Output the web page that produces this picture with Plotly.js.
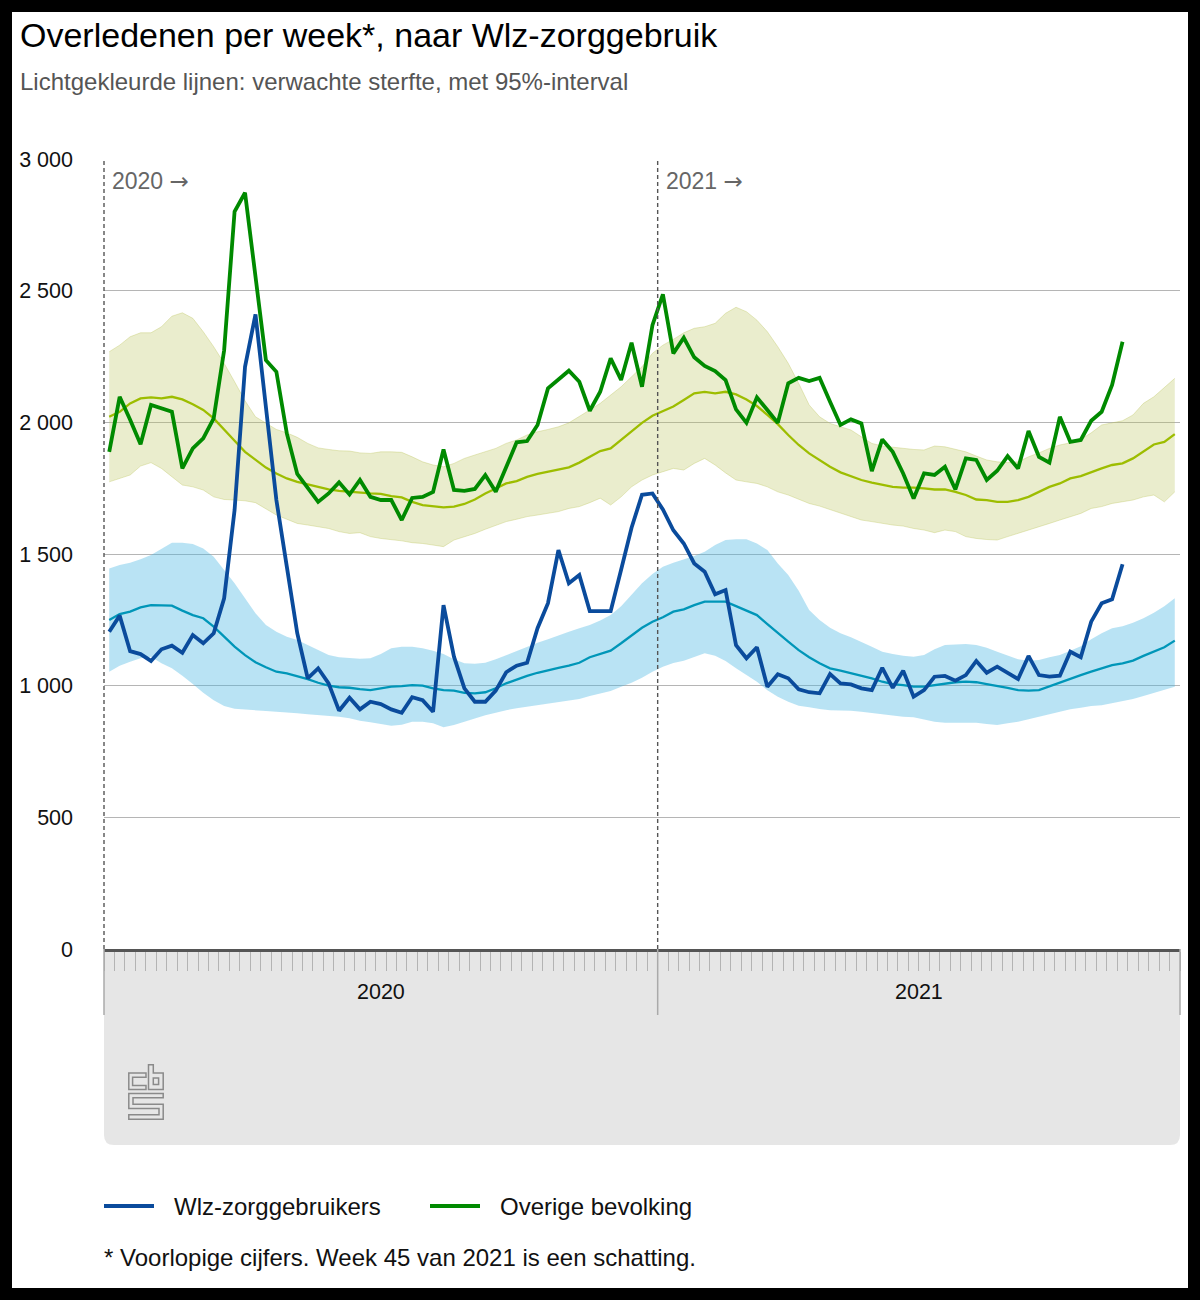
<!DOCTYPE html>
<html><head><meta charset="utf-8">
<script src="https://cdn.plot.ly/plotly-3.0.1.min.js"></script>
<style>
html,body{margin:0;padding:0;background:#000;}
#wrap{position:absolute;left:12px;top:12px;width:1176px;height:1276px;background:#fff;overflow:hidden;}
#chart{width:1176px;height:1276px;}
</style></head>
<body><div id="wrap"><div id="chart"></div></div>
<script>
// ---------------- DATA ----------------
// x = week index: 0 = 2020 week 1 ... 52 = 2020 week 53, 53 = 2021 week 1 ...
const yearLabels = ['2020', '2021'];
const yearCenters = [26, 77.5];          // centre of each year's span on the week axis
const yearStarts = [-0.5, 52.5];         // year boundaries on the week axis
const seriesNames = ['Wlz-zorggebruikers', 'Overige bevolking'];

const yTickVals = [0, 500, 1000, 1500, 2000, 2500, 3000];
const yTickText = ['0', '500', '1 000', '1 500', '2 000', '2 500', '3 000'];

// Observed deaths, Wlz care users (2020 w1 .. 2021 w45)
const wlzObserved = [
  1205,1266,1131,1120,1094,1138,1152,1125,1192,1161,
  1199,1332,1667,2211,2410,2050,1705,1452,1199,1028,
  1066,1009,905,954,910,939,930,910,897,956,
  945,901,1306,1110,990,939,939,981,1051,1076,
  1087,1218,1313,1515,1389,1420,1283,1283,1283,1440,
  1600,1725,1730,1669,1590,1540,1464,1433,1347,1363,
  1154,1104,1146,996,1043,1028,986,975,971,1044,
  1009,1005,990,983,1068,992,1057,958,983,1034,
  1037,1019,1040,1094,1049,1072,1049,1025,1113,1040,
  1034,1038,1129,1108,1243,1313,1328,1461
];
// Observed deaths, rest of population
const overigeObserved = [
  1888,2097,2010,1917,2066,2053,2040,1825,1901,1939,
  2015,2274,2800,2872,2540,2236,2192,1958,1804,1749,
  1698,1730,1772,1726,1781,1717,1705,1705,1629,1713,
  1717,1736,1897,1743,1740,1747,1800,1736,1831,1924,
  1929,1990,2129,2163,2196,2154,2044,2116,2243,2161,
  2302,2135,2369,2486,2262,2321,2247,2214,2195,2160,
  2049,1998,2095,2047,1998,2148,2169,2157,2169,2078,
  1990,2011,1996,1815,1935,1888,1806,1711,1806,1800,
  1831,1745,1863,1857,1781,1816,1872,1825,1967,1869,
  1847,2021,1926,1933,2006,2040,2142,2306
];
// Expected deaths (Wlz) and 95% interval
const wlzExpected = [
  1249,1272,1281,1297,1306,1306,1304,1285,1268,1256,
  1224,1186,1148,1116,1089,1070,1053,1047,1037,1025,
  1011,1000,994,992,987,983,990,996,998,1002,
  1000,990,983,981,973,971,975,990,1009,1024,
  1037,1049,1059,1068,1076,1087,1108,1120,1133,1161,
  1192,1220,1243,1260,1281,1290,1306,1319,1319,1319,
  1302,1285,1268,1234,1199,1167,1135,1108,1085,1066,
  1057,1047,1038,1028,1015,1006,1002,996,996,1002,
  1009,1013,1015,1013,1006,1000,992,983,981,983,
  998,1011,1028,1040,1053,1066,1078,1085,1095,1113,
  1129,1146,1171
];
const wlzUpper = [
  1445,1458,1467,1480,1496,1518,1543,1543,1538,1521,
  1490,1439,1389,1332,1275,1230,1205,1186,1173,1154,
  1135,1116,1108,1104,1102,1104,1120,1142,1148,1148,
  1142,1133,1120,1100,1085,1083,1087,1100,1116,1129,
  1146,1163,1176,1192,1205,1218,1230,1247,1268,1302,
  1344,1389,1424,1452,1467,1480,1492,1509,1534,1553,
  1556,1556,1540,1515,1464,1420,1360,1287,1249,1220,
  1199,1184,1167,1148,1129,1120,1114,1110,1116,1138,
  1154,1157,1158,1154,1144,1129,1114,1100,1095,1097,
  1108,1116,1133,1150,1176,1199,1218,1226,1239,1256,
  1277,1302,1332
];
const wlzLower = [
  1053,1076,1091,1104,1110,1085,1066,1038,1006,973,
  945,923,912,910,907,904,901,899,895,891,
  888,886,882,876,867,861,854,848,852,863,
  863,857,842,851,863,876,888,897,907,914,
  920,924,930,937,942,949,961,971,980,996,
  1011,1030,1053,1072,1086,1095,1108,1123,1114,1094,
  1066,1040,1015,983,958,939,924,918,911,907,
  907,905,901,895,891,887,882,880,872,863,
  859,859,859,859,854,851,857,863,872,882,
  892,901,910,916,923,926,933,942,949,961,
  973,986,996
];
// Expected deaths (rest of population) and 95% interval
const overigeExpected = [
  2021,2040,2072,2091,2095,2091,2097,2087,2069,2047,
  2015,1971,1930,1888,1857,1828,1806,1787,1774,1764,
  1753,1745,1740,1736,1734,1730,1728,1720,1715,1698,
  1686,1682,1677,1680,1690,1707,1730,1749,1768,1777,
  1793,1804,1812,1821,1829,1847,1869,1891,1901,1933,
  1968,1998,2025,2044,2060,2085,2110,2116,2110,2116,
  2106,2087,2062,2028,1993,1952,1914,1882,1857,1831,
  1810,1796,1781,1771,1762,1755,1752,1752,1749,1745,
  1745,1736,1724,1707,1705,1698,1698,1705,1717,1736,
  1755,1768,1787,1796,1812,1825,1838,1844,1863,1888,
  1916,1926,1955
];
const overigeUpper = [
  2268,2293,2325,2340,2340,2363,2403,2416,2395,2344,
  2287,2224,2154,2082,2021,1996,1973,1960,1943,1920,
  1903,1897,1892,1891,1884,1882,1888,1888,1886,1869,
  1850,1838,1831,1844,1863,1876,1888,1901,1920,1933,
  1952,1964,1973,1983,1998,2021,2047,2072,2104,2135,
  2173,2211,2262,2293,2315,2340,2357,2363,2376,2414,
  2437,2420,2388,2344,2287,2224,2148,2066,2021,1996,
  1983,1971,1945,1920,1910,1905,1901,1897,1895,1910,
  1907,1897,1888,1872,1857,1850,1847,1850,1869,1884,
  1901,1914,1922,1935,1960,1990,1998,2006,2028,2072,
  2097,2133,2167
];
const overigeLower = [
  1774,1787,1800,1834,1847,1825,1793,1762,1755,1743,
  1717,1707,1705,1702,1695,1673,1648,1632,1616,1610,
  1604,1597,1585,1578,1581,1566,1559,1555,1550,1543,
  1540,1534,1528,1553,1566,1578,1594,1610,1623,1632,
  1642,1648,1654,1661,1673,1680,1695,1712,1686,1717,
  1755,1781,1800,1812,1825,1819,1844,1863,1838,1808,
  1781,1774,1768,1755,1736,1724,1707,1692,1682,1669,
  1654,1642,1629,1623,1616,1610,1606,1597,1591,1581,
  1591,1585,1566,1559,1555,1553,1566,1578,1591,1604,
  1616,1629,1642,1654,1673,1680,1692,1698,1705,1717,
  1724,1698,1736
];

// ---------------- LAYOUT HELPERS ----------------
const W = 1176, H = 1276, ML = 92, MR = 8, MT = 147, MB = 339;
const PW = W - ML - MR, PH = H - MT - MB;
const OFF = 12; // black frame around the white card
const rx = r => (r - OFF - ML) / PW;          // reference px -> paper x
const ry = r => (MT + PH - (r - OFF)) / PH;   // reference px -> paper y
const XMIN = -0.5, XMAX = 102.5;
const dx = v => (v - XMIN) / (XMAX - XMIN);   // week -> paper x
const TXT_PAD = 2;                            // annotation inner padding to compensate

const weekIdx = wlzExpected.map((_, i) => i);
const obsIdx = wlzObserved.map((_, i) => i);
const weekBoundaries = [];
for (let k = 0; k <= 103; k++) weekBoundaries.push(k - 0.5);

const FONT = 'Liberation Sans, Arial, Helvetica, sans-serif';
const ARROW = '<span style="font-family:DejaVu Sans">→</span>';

const C = {
  blue: '#0a4b9c', green: '#008a00',
  teal: '#0096b8', olive: '#9dbd00',
  blueBand: 'rgba(70,182,225,0.38)', oliveBand: 'rgba(185,196,90,0.30)',
  oliveEdge: 'rgba(185,196,90,0.35)', blueEdge: 'rgba(70,182,225,0.0)'
};

const traces = [
  {x: weekIdx, y: overigeLower, mode: 'lines', line: {width: 1, color: C.oliveEdge}, hoverinfo: 'skip', showlegend: false},
  {x: weekIdx, y: overigeUpper, mode: 'lines', line: {width: 1, color: C.oliveEdge}, fill: 'tonexty', fillcolor: C.oliveBand, hoverinfo: 'skip', showlegend: false},
  {x: weekIdx, y: wlzLower, mode: 'lines', line: {width: 0, color: C.blueEdge}, hoverinfo: 'skip', showlegend: false},
  {x: weekIdx, y: wlzUpper, mode: 'lines', line: {width: 0, color: C.blueEdge}, fill: 'tonexty', fillcolor: C.blueBand, hoverinfo: 'skip', showlegend: false},
  {x: weekIdx, y: overigeExpected, mode: 'lines', line: {width: 2.3, color: C.olive}, showlegend: false},
  {x: weekIdx, y: wlzExpected, mode: 'lines', line: {width: 2.3, color: C.teal}, showlegend: false},
  {x: obsIdx, y: overigeObserved, mode: 'lines', name: seriesNames[1], line: {width: 3.8, color: C.green}, showlegend: false},
  {x: obsIdx, y: wlzObserved, mode: 'lines', name: seriesNames[0], line: {width: 3.8, color: C.blue}, showlegend: false}
];

// panel below the axis with rounded bottom corners
const pTop = 0, pBot = ry(1145), rX = 10 / PW, rY = 10 / PH;
const panelPath = `M0,${pTop} L1,${pTop} L1,${pBot + rY} Q1,${pBot} ${1 - rX},${pBot} L${rX},${pBot} Q0,${pBot} 0,${pBot + rY} Z`;

const shapes = [
  {type: 'path', xref: 'paper', yref: 'paper', path: panelPath, fillcolor: '#e6e6e6', line: {width: 0}, layer: 'below'},
  // long separators below the axis
  ...[XMIN, yearStarts[1], XMAX].map(v => ({type: 'line', xref: 'paper', yref: 'paper', x0: dx(v), x1: dx(v), y0: 0, y1: ry(1015), line: {color: '#aaaaaa', width: 1.5}, layer: 'above'})),
  // dashed year dividers inside the plot
  ...yearStarts.map(v => ({type: 'line', xref: 'paper', yref: 'paper', x0: dx(v), x1: dx(v), y0: 0, y1: 1, line: {color: '#555555', width: 1.4, dash: '4px,3px'}, layer: 'above'})),
  // legend samples
  {type: 'line', xref: 'paper', yref: 'paper', x0: rx(104), x1: rx(154), y0: ry(1206), y1: ry(1206), line: {color: C.blue, width: 4}},
  {type: 'line', xref: 'paper', yref: 'paper', x0: rx(430), x1: rx(480), y0: ry(1206), y1: ry(1206), line: {color: C.green, width: 4}}
];

const annotations = [
  {text: 'Lichtgekleurde lijnen: verwachte sterfte, met 95%-interval', xref: 'paper', yref: 'paper', x: rx(20 - TXT_PAD), y: ry(82), xanchor: 'left', yanchor: 'middle', showarrow: false, font: {family: FONT, size: 24, color: '#555555'}},
  ...yearLabels.map((t, i) => ({text: t + ' ' + ARROW, xref: 'paper', yref: 'paper', x: dx(yearStarts[i]) + rx(112 - TXT_PAD) - rx(104), y: ry(181), xanchor: 'left', yanchor: 'middle', showarrow: false, font: {family: FONT, size: 23, color: '#666666'}})),
  ...yearLabels.map((t, i) => ({text: t, xref: 'x', yref: 'paper', x: yearCenters[i], y: ry(992), xanchor: 'center', yanchor: 'middle', showarrow: false, font: {family: FONT, size: 21.5, color: '#111111'}})),
  {text: seriesNames[0], xref: 'paper', yref: 'paper', x: rx(174 - TXT_PAD), y: ry(1206), xanchor: 'left', yanchor: 'middle', showarrow: false, font: {family: FONT, size: 24, color: '#111111'}},
  {text: seriesNames[1], xref: 'paper', yref: 'paper', x: rx(500 - TXT_PAD), y: ry(1206), xanchor: 'left', yanchor: 'middle', showarrow: false, font: {family: FONT, size: 24, color: '#111111'}},
  {text: '* Voorlopige cijfers. Week 45 van 2021 is een schatting.', xref: 'paper', yref: 'paper', x: rx(104 - TXT_PAD), y: ry(1257), xanchor: 'left', yanchor: 'middle', showarrow: false, font: {family: FONT, size: 24, color: '#111111'}}
];

const logoSvg = '<svg xmlns="http://www.w3.org/2000/svg" viewBox="0 0 36 56" width="36" height="56">' +
  '<g fill="none" stroke="#8a8a8a" stroke-width="1.5" stroke-linejoin="miter">' +
  '<path d="M18,9 H0.8 V25.5 H18 V21.5 H4.6 V13.2 H18 Z"/>' +
  '<path d="M20.5,0.8 H25.3 V9 H35.2 V25.5 H20.5 Z"/>' +
  '<path d="M25.3,14 H30.6 V20.6 H25.3 Z"/>' +
  '<path d="M0.8,29.5 H35.2 V33.8 H5 V40.2 H35.2 V55.2 H0.8 V50.8 H31 V44.6 H0.8 Z"/>' +
  '</g></svg>';

const layout = {
  width: W, height: H,
  margin: {l: ML, r: MR, t: MT, b: MB, pad: 0},
  paper_bgcolor: '#ffffff', plot_bgcolor: '#ffffff',
  font: {family: FONT, size: 21.5, color: '#111111'},
  title: {text: 'Overledenen per week*, naar Wlz-zorggebruik', font: {family: FONT, size: 34, color: '#000000'},
          xref: 'container', yref: 'container', x: 8 / W, xanchor: 'left', y: 1 - 23 / H, yanchor: 'middle'},
  showlegend: false,
  hovermode: false,
  xaxis: {
    range: [XMIN, XMAX], showgrid: false, zeroline: false,
    showline: true, linecolor: '#555555', linewidth: 3,
    tickmode: 'array', tickvals: weekBoundaries, ticks: 'outside', ticklen: 19, tickwidth: 1, tickcolor: '#b3b3b3',
    showticklabels: false, fixedrange: true
  },
  yaxis: {
    range: [0, 3000], tickmode: 'array', tickvals: yTickVals, ticktext: yTickText,
    showgrid: true, gridcolor: '#b5b5b5', gridwidth: 1, zeroline: false, showline: false,
    ticks: '', ticklabelstandoff: 30, tickfont: {family: FONT, size: 21.5, color: '#111111'}, fixedrange: true
  },
  shapes: shapes,
  annotations: annotations,
  images: [{source: 'data:image/svg+xml;charset=utf-8,' + encodeURIComponent(logoSvg), xref: 'paper', yref: 'paper',
            x: rx(128), y: ry(1064), sizex: 36 / PW, sizey: 56 / PH, xanchor: 'left', yanchor: 'top', sizing: 'stretch', layer: 'above'}]
};

Plotly.newPlot('chart', traces, layout, {displayModeBar: false, staticPlot: true});
</script>
</body></html>
